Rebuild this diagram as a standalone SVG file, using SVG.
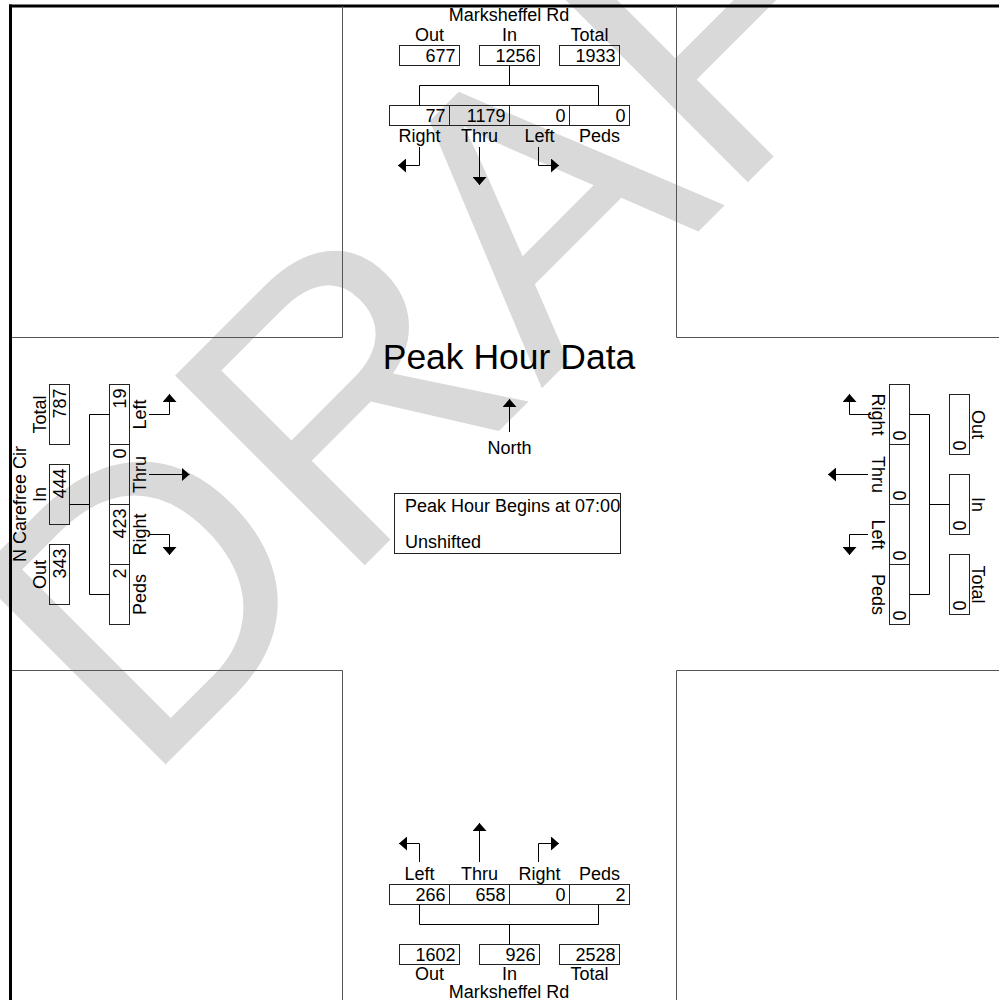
<svg xmlns="http://www.w3.org/2000/svg" width="999" height="1000" viewBox="0 0 999 1000">
<style>
.t{font-family:"Liberation Sans",Arial,sans-serif;font-size:18px;fill:#000}
.m{text-anchor:middle}
.e{text-anchor:end}
.box{fill:none;stroke:#222;stroke-width:1}
.ln{fill:none;stroke:#000;stroke-width:1}
.q{fill:none;stroke:#555;stroke-width:1}
.arr{fill:none;stroke:#000;stroke-width:1;marker-end:url(#ah)}
.wm{font-family:"Liberation Sans",Arial,sans-serif;font-size:390px;fill:#d9d9d9}
</style>
<defs>
<marker id="ah" markerUnits="userSpaceOnUse" markerWidth="9" markerHeight="14" refX="8" refY="7" orient="auto">
<path d="M0,0 L8,7 L0,14 z" fill="#000"/>
</marker>
</defs>
<rect x="0" y="0" width="999" height="1000" fill="#fff"/>
<g id="watermark">
<text class="wm" transform="translate(143,787) rotate(-45)">DRAFT</text>
</g>
<g id="frame">
<line x1="9" y1="6" x2="999" y2="6" stroke="#000" stroke-width="3"/>
<line x1="10.5" y1="4.5" x2="10.5" y2="1000" stroke="#000" stroke-width="3"/>
<path class="q" d="M342.5 6 V337.5 H12"/>
<path class="q" d="M676.5 6 V337.5 H999"/>
<path class="q" d="M12 670.5 H342.5 V1000"/>
<path class="q" d="M999 670.5 H676.5 V1000"/>
</g>
<g id="north-leg">
<text class="t m" x="509" y="21">Marksheffel Rd</text>
<text class="t m" x="429.5" y="41">Out</text>
<text class="t m" x="509.5" y="41">In</text>
<text class="t m" x="589.5" y="41">Total</text>
<rect class="box" x="399.5" y="45.5" width="60" height="20"/>
<rect class="box" x="479.5" y="45.5" width="60" height="20"/>
<rect class="box" x="559.5" y="45.5" width="60" height="20"/>
<text class="t e" x="455.5" y="62">677</text>
<text class="t e" x="535.5" y="62">1256</text>
<text class="t e" x="615.5" y="62">1933</text>
<rect class="box" x="389.5" y="105.5" width="60" height="20"/>
<rect class="box" x="449.5" y="105.5" width="60" height="20"/>
<rect class="box" x="509.5" y="105.5" width="60" height="20"/>
<rect class="box" x="569.5" y="105.5" width="60" height="20"/>
<text class="t e" x="445.5" y="122">77</text>
<text class="t e" x="505.5" y="122">1179</text>
<text class="t e" x="565.5" y="122">0</text>
<text class="t e" x="625.5" y="122">0</text>
<text class="t m" x="419.5" y="142">Right</text>
<text class="t m" x="479.5" y="142">Thru</text>
<text class="t m" x="539.5" y="142">Left</text>
<text class="t m" x="599.5" y="142">Peds</text>
</g>
<g id="south-leg">
<text class="t m" x="419.5" y="880">Left</text>
<text class="t m" x="479.5" y="880">Thru</text>
<text class="t m" x="539.5" y="880">Right</text>
<text class="t m" x="599.5" y="880">Peds</text>
<rect class="box" x="389.5" y="884.5" width="60" height="20"/>
<rect class="box" x="449.5" y="884.5" width="60" height="20"/>
<rect class="box" x="509.5" y="884.5" width="60" height="20"/>
<rect class="box" x="569.5" y="884.5" width="60" height="20"/>
<text class="t e" x="445.5" y="901">266</text>
<text class="t e" x="505.5" y="901">658</text>
<text class="t e" x="565.5" y="901">0</text>
<text class="t e" x="625.5" y="901">2</text>
<rect class="box" x="399.5" y="944.5" width="60" height="20"/>
<rect class="box" x="479.5" y="944.5" width="60" height="20"/>
<rect class="box" x="559.5" y="944.5" width="60" height="20"/>
<text class="t e" x="455.5" y="961">1602</text>
<text class="t e" x="535.5" y="961">926</text>
<text class="t e" x="615.5" y="961">2528</text>
<text class="t m" x="429.5" y="980">Out</text>
<text class="t m" x="509.5" y="980">In</text>
<text class="t m" x="589.5" y="980">Total</text>
<text class="t m" x="509" y="998">Marksheffel Rd</text>
</g>
<g id="west-leg">
<text class="t m" transform="translate(26,504) rotate(-90)">N Carefree Cir</text>
<text class="t m" transform="translate(46,414.5) rotate(-90)">Total</text>
<text class="t m" transform="translate(46,494.5) rotate(-90)">In</text>
<text class="t m" transform="translate(46,574.5) rotate(-90)">Out</text>
<rect class="box" x="49.5" y="384.5" width="20" height="60"/>
<rect class="box" x="49.5" y="464.5" width="20" height="60"/>
<rect class="box" x="49.5" y="544.5" width="20" height="60"/>
<text class="t e" transform="translate(66,388.5) rotate(-90)">787</text>
<text class="t e" transform="translate(66,468.5) rotate(-90)">444</text>
<text class="t e" transform="translate(66,548.5) rotate(-90)">343</text>
<rect class="box" x="109.5" y="384.5" width="20" height="60"/>
<rect class="box" x="109.5" y="444.5" width="20" height="60"/>
<rect class="box" x="109.5" y="504.5" width="20" height="60"/>
<rect class="box" x="109.5" y="564.5" width="20" height="60"/>
<text class="t e" transform="translate(126,388.5) rotate(-90)">19</text>
<text class="t e" transform="translate(126,448.5) rotate(-90)">0</text>
<text class="t e" transform="translate(126,508.5) rotate(-90)">423</text>
<text class="t e" transform="translate(126,568.5) rotate(-90)">2</text>
<text class="t m" transform="translate(146,414.5) rotate(-90)">Left</text>
<text class="t m" transform="translate(146,474.5) rotate(-90)">Thru</text>
<text class="t m" transform="translate(146,534.5) rotate(-90)">Right</text>
<text class="t m" transform="translate(146,594.5) rotate(-90)">Peds</text>
</g>
<g id="east-leg">
<rect class="box" x="889.5" y="384.5" width="20" height="60"/>
<rect class="box" x="889.5" y="444.5" width="20" height="60"/>
<rect class="box" x="889.5" y="504.5" width="20" height="60"/>
<rect class="box" x="889.5" y="564.5" width="20" height="60"/>
<text class="t e" transform="translate(893,440.5) rotate(90)">0</text>
<text class="t e" transform="translate(893,500.5) rotate(90)">0</text>
<text class="t e" transform="translate(893,560.5) rotate(90)">0</text>
<text class="t e" transform="translate(893,620.5) rotate(90)">0</text>
<text class="t m" transform="translate(872,414.5) rotate(90)">Right</text>
<text class="t m" transform="translate(872,474.5) rotate(90)">Thru</text>
<text class="t m" transform="translate(872,534.5) rotate(90)">Left</text>
<text class="t m" transform="translate(872,594.5) rotate(90)">Peds</text>
<rect class="box" x="949.5" y="394.5" width="20" height="60"/>
<rect class="box" x="949.5" y="474.5" width="20" height="60"/>
<rect class="box" x="949.5" y="554.5" width="20" height="60"/>
<text class="t e" transform="translate(953,450.5) rotate(90)">0</text>
<text class="t e" transform="translate(953,530.5) rotate(90)">0</text>
<text class="t e" transform="translate(953,610.5) rotate(90)">0</text>
<text class="t m" transform="translate(972,424.5) rotate(90)">Out</text>
<text class="t m" transform="translate(972,504.5) rotate(90)">In</text>
<text class="t m" transform="translate(972,584.5) rotate(90)">Total</text>
</g>
<g id="title">
<text class="t m" x="509" y="369" style="font-size:35.5px">Peak Hour Data</text>
</g>
<g id="north-indicator">
<text class="t m" x="509.5" y="454">North</text>
</g>
<g id="info-box">
<rect class="box" x="394.5" y="493.5" width="226" height="60"/>
<text class="t" x="405" y="512">Peak Hour Begins at 07:00</text>
<text class="t" x="405" y="548">Unshifted</text>
</g>
<g id="connectors">
<path class="ln" d="M509.5 65.5 V85.5 M419.5 105.5 V85.5 H598.5 V105.5"/>
<path class="ln" d="M419.5 904.5 V924.5 H598.5 V904.5 M509.5 924.5 V944.5"/>
<path class="ln" d="M69.5 504.5 H89.5 M109.5 414.5 H89.5 V594.5 H109.5"/>
<path class="ln" d="M909.5 414.5 H929.5 V594.5 H909.5 M929.5 504.5 H949.5"/>
<path class="arr" d="M419.5 147 V165.5 H398"/>
<path class="arr" d="M479.5 147 V185"/>
<path class="arr" d="M538.5 147 V165.5 H559"/>
<path class="arr" d="M419.5 862 V843.5 H399"/>
<path class="arr" d="M479.5 862 V823"/>
<path class="arr" d="M538.5 862 V843.5 H559"/>
<path class="arr" d="M149 414.5 H169.5 V394"/>
<path class="arr" d="M149 474.5 H189.5"/>
<path class="arr" d="M149 534.5 H169.5 V555"/>
<path class="arr" d="M871 414.5 H849.5 V394"/>
<path class="arr" d="M868 474.5 H828"/>
<path class="arr" d="M868 534.5 H849.5 V555"/>
<path class="arr" d="M509.5 432 V399"/>
</g>
</svg>
